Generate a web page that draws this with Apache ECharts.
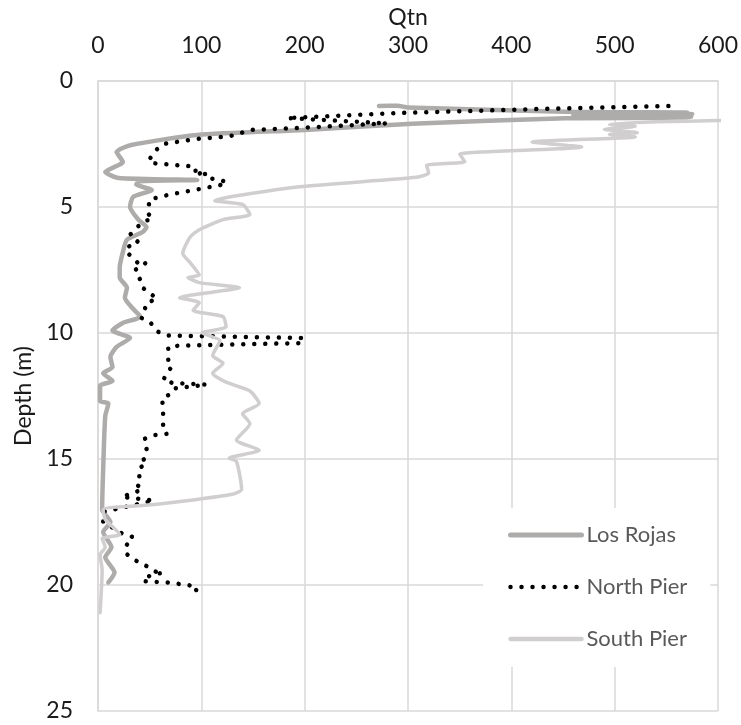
<!DOCTYPE html>
<html>
<head>
<meta charset="utf-8">
<script src="https://cdn.jsdelivr.net/npm/echarts@6/dist/echarts.min.js"></script>
<style>
html,body{margin:0;padding:0;background:#fff;}
#chart{width:741px;height:725px;}
</style>
</head>
<body>
<div id="chart"></div>
<script>
var xTicks = [0, 100, 200, 300, 400, 500, 600];
var yTicks = [0, 5, 10, 15, 20, 25];
var seriesNames = ['Los Rojas', 'North Pier', 'South Pier'];

var losRojasQtn   = [272, 290, 300, 452, 570, 462, 575, 460, 572, 468, 574, 470, 571, 452, 304, 200, 96, 32, 18, 24, 7, 20, 96, 40, 37, 52, 34, 31, 39, 47, 43, 28, 24, 21, 21, 28, 26, 33, 41, 24, 14, 31, 18, 12, 14, 5, 14, 2, 2, 10, 7, 5, 4, 12, 5, 13, 7, 16, 10];
var losRojasDepth = [0.99, 0.98, 1.05, 1.22, 1.25, 1.28, 1.31, 1.34, 1.37, 1.40, 1.42, 1.44, 1.45, 1.48, 1.70, 1.94, 2.14, 2.54, 2.82, 3.21, 3.61, 3.85, 3.93, 3.98, 4.10, 4.33, 4.60, 5.00, 5.50, 5.80, 6.00, 6.30, 6.80, 7.40, 7.80, 8.20, 8.60, 9.00, 9.35, 9.60, 9.90, 10.20, 10.55, 10.95, 11.35, 11.60, 11.90, 12.10, 12.70, 12.80, 13.30, 15.40, 17.00, 17.50, 17.90, 18.50, 18.90, 19.50, 19.90];

var northPierQtn   = [552, 420, 291, 183, 280, 191, 148, 127, 95, 63, 55, 50, 50, 94, 95, 103, 104, 115, 124, 124, 103, 70, 50, 48, 53, 43, 31, 39, 28, 28, 38, 47, 36, 41, 43, 50, 57, 47, 45, 42, 51, 58, 68, 198, 198, 79, 68, 68, 71, 67, 63, 72, 105, 74, 71, 62, 63, 63, 67, 55, 45, 47, 44, 47, 40, 40, 37, 43, 34, 23, 33, 54, 5, 5, 23, 34, 28, 27, 35, 45, 57, 63, 45, 44, 67, 87, 96, 95];
var northPierDepth = [0.99, 1.12, 1.27, 1.47, 1.68, 1.87, 1.94, 2.20, 2.30, 2.50, 2.78, 3.10, 3.25, 3.40, 3.80, 3.50, 3.85, 3.90, 4.00, 4.08, 4.25, 4.50, 4.70, 5.25, 5.45, 5.60, 6.10, 6.40, 6.60, 6.80, 7.20, 7.20, 7.50, 7.90, 8.20, 8.40, 8.65, 8.80, 9.10, 9.40, 9.60, 9.95, 10.10, 10.20, 10.40, 10.50, 10.55, 11.27, 11.35, 11.60, 11.87, 11.98, 12.05, 12.20, 12.40, 12.60, 13.00, 13.70, 14.00, 14.05, 14.20, 14.60, 15.00, 15.20, 15.35, 15.70, 16.00, 16.20, 16.35, 16.50, 16.55, 16.65, 17.10, 17.50, 17.95, 18.10, 18.40, 18.75, 19.00, 19.20, 19.50, 19.50, 19.70, 19.85, 19.90, 20.00, 20.08, 20.20];

var southPierQtn   = [660, 600, 540, 495, 520, 490, 522, 495, 520, 420, 468, 440, 350, 355, 318, 320, 308, 195, 113, 140, 147, 121, 98, 89, 82, 89, 98, 87, 98, 137, 79, 98, 92, 121, 124, 101, 118, 111, 121, 111, 124, 147, 156, 140, 147, 134, 156, 127, 134, 139, 130, 57, 5, 7, 21, 4, 7, 2, 4, 2];
var southPierDepth = [1.52, 1.57, 1.62, 1.72, 1.80, 1.92, 2.05, 2.12, 2.22, 2.42, 2.62, 2.70, 2.90, 3.20, 3.35, 3.65, 3.82, 4.20, 4.75, 4.90, 5.30, 5.50, 5.90, 6.20, 6.85, 7.20, 7.70, 7.80, 8.00, 8.20, 8.60, 8.80, 9.10, 9.35, 9.75, 10.00, 10.30, 10.90, 11.20, 11.60, 11.95, 12.30, 12.80, 13.20, 13.60, 14.25, 14.65, 14.97, 15.10, 16.20, 16.40, 16.80, 17.00, 17.40, 18.00, 18.15, 18.50, 18.80, 19.40, 21.10];

function zip(a, b) { return a.map(function (v, i) { return [v, b[i]]; }); }

var FONT = 'Lato';
var chart = echarts.init(document.getElementById('chart'), null, { renderer: 'canvas' });
var dotDash = [0.01, 11];

chart.setOption({
  animation: false,
  backgroundColor: '#ffffff',
  grid: { left: 98, right: 21, top: 81, bottom: 14, containLabel: false },
  xAxis: {
    type: 'value', position: 'top',
    min: xTicks[0], max: xTicks[xTicks.length - 1], interval: 100,
    name: 'Qtn', nameLocation: 'middle', nameGap: 47,
    nameTextStyle: { fontFamily: FONT, fontSize: 23, color: '#1a1a1a' },
    axisLine: { show: true, lineStyle: { color: '#d9d9d9', width: 1.5 } },
    axisTick: { show: false },
    axisLabel: { fontFamily: FONT, fontSize: 23, color: '#1a1a1a', margin: 24 },
    splitLine: { show: true, lineStyle: { color: '#d9d9d9', width: 1.5 } }
  },
  yAxis: {
    type: 'value', inverse: true,
    min: yTicks[0], max: yTicks[yTicks.length - 1], interval: 5,
    name: 'Depth (m)', nameLocation: 'middle', nameGap: 63, nameRotate: 90,
    nameTextStyle: { fontFamily: FONT, fontSize: 23, color: '#1a1a1a' },
    axisLine: { show: true, lineStyle: { color: '#d9d9d9', width: 1.5 } },
    axisTick: { show: false },
    axisLabel: { fontFamily: FONT, fontSize: 23, color: '#1a1a1a', margin: 25 },
    splitLine: { show: true, lineStyle: { color: '#d9d9d9', width: 1.5 } }
  },
  legend: {
    orient: 'vertical', left: 483, top: 508,
    backgroundColor: '#ffffff',
    padding: [14, 23, 15, 25],
    itemWidth: 71, itemHeight: 14, itemGap: 26,
    textStyle: { fontFamily: FONT, fontSize: 22, lineHeight: 26, color: '#595959' },
    itemStyle: { opacity: 0 },
    data: [
      { name: seriesNames[0], lineStyle: { width: 5, color: '#aeabab', type: 'solid', cap: 'round' } },
      { name: seriesNames[1], lineStyle: { width: 4.5, color: '#000000', type: dotDash, cap: 'round' } },
      { name: seriesNames[2], lineStyle: { width: 4.5, color: '#d0cece', type: 'solid', cap: 'round' } }
    ]
  },
  series: [
    {
      name: seriesNames[0], type: 'line', data: zip(losRojasQtn, losRojasDepth),
      showSymbol: false, symbol: 'none', smooth: 0.2, clip: true,
      lineStyle: { color: '#aeabab', width: 4.5, cap: 'round', join: 'round' },
      itemStyle: { color: '#aeabab' }
    },
    {
      name: seriesNames[1], type: 'line', data: zip(northPierQtn, northPierDepth),
      showSymbol: false, symbol: 'none', smooth: false, clip: true,
      lineStyle: { color: '#000000', width: 4.5, type: dotDash, cap: 'round', join: 'round' },
      itemStyle: { color: '#000000' }
    },
    {
      name: seriesNames[2], type: 'line', data: zip(southPierQtn, southPierDepth),
      showSymbol: false, symbol: 'none', smooth: 0.2, clip: true,
      lineStyle: { color: '#d0cece', width: 3.5, cap: 'round', join: 'round' },
      itemStyle: { color: '#d0cece' }
    }
  ]
});
</script>
</body>
</html>
